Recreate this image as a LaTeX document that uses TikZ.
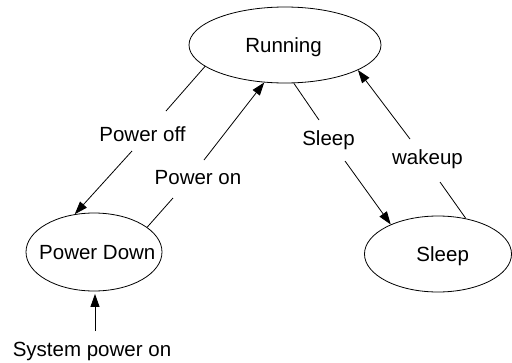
\documentclass[tikz,border=0pt]{standalone}
\usepackage{fontspec}
\setmainfont{Liberation Sans}
\usetikzlibrary{shapes.geometric,arrows.meta}
\begin{document}
\begin{tikzpicture}[x=1pt,y=-1pt,
  every node/.style={font=\fontsize{20.5}{24}\selectfont},
  state/.style={draw,ellipse,line width=0.8pt,inner sep=0pt,text height=14.7pt,text depth=0pt},
  lbl/.style={anchor=base,inner sep=0pt},
  conn/.style={line width=0.8pt},
  arr/.style={conn,-{Triangle[length=13pt,width=9pt]}}]
\useasboundingbox (0,0) rectangle (512,362);
% states
\node[state,minimum width=192pt,minimum height=76pt] (run) at (285,45) {\makebox[0pt]{\hspace*{-3pt}Running}};
\node[state,minimum width=136pt,minimum height=78pt] (pd) at (94,252) {\makebox[0pt]{\hspace*{6.6pt}Power Down}};
\node[state,minimum width=147pt,minimum height=76pt] (slp) at (438,254) {\makebox[0pt]{\hspace*{9.4pt}Sleep}};
% labels
\node[lbl] (poff) at (142.5,141.7) {Power off};
\node[lbl] (pon) at (198,184) {Power on};
\node[lbl] (lsleep) at (328.5,145.5) {Sleep};
\node[lbl] (lwake) at (427.5,164.5) {wakeup};
\node[lbl] (spo) at (92,356.7) {System power on};
% gap coordinates
\coordinate (p1a) at (166,111);
\coordinate (p1b) at (132,151);
\coordinate (p2a) at (173,198);
\coordinate (p2b) at (204,160);
\coordinate (p3a) at (319,120);
\coordinate (p3b) at (345,161);
\coordinate (p4a) at (440,182);
\coordinate (p4b) at (410,139);
\coordinate (sps) at (95,331);
% connectors
\draw[conn] (run.195) -- (p1a);
\draw[arr] (p1b) -- (pd.117);
\draw[conn] (pd.25) -- (p2a);
\draw[arr] (p2b) -- (run.241);
\draw[conn] (run.283) -- (p3a);
\draw[arr] (p3b) -- (slp.148);
\draw[conn] (slp.52) -- (p4a);
\draw[arr] (p4b) -- (run.341);
\draw[arr,shorten >=2.5pt] (sps) -- (sps |- pd.south);
\end{tikzpicture}
\end{document}
